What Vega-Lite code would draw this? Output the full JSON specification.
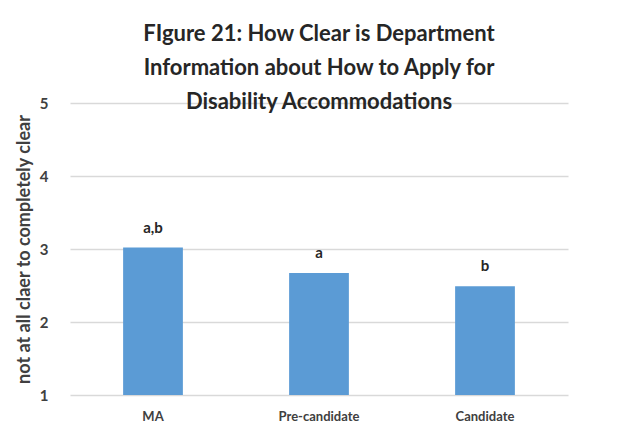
{
  "$schema": "https://vega.github.io/schema/vega-lite/v6.json",
  "width": 498,
  "height": 292,
  "autosize": {"type": "none"},
  "padding": {"left": 70, "top": 103, "right": 58, "bottom": 50},
  "background": "white",
  "title": {
    "text": ["FIgure 21: How Clear is Department", "Information about How to Apply for", "Disability Accommodations"],
    "anchor": "middle",
    "font": "Lato",
    "fontSize": 22,
    "fontWeight": "bold",
    "color": "#262626",
    "lineHeight": 34,
    "offset": -18
  },
  "data": {
    "values": [
      {"group": "MA", "score": 3.02, "sig": "a,b"},
      {"group": "Pre-candidate", "score": 2.67, "sig": "a"},
      {"group": "Candidate", "score": 2.49, "sig": "b"}
    ]
  },
  "encoding": {
    "x": {
      "field": "group",
      "type": "nominal",
      "sort": null,
      "scale": {"paddingInner": 0.64, "paddingOuter": 0.32},
      "axis": {
        "title": null,
        "labelAngle": 0,
        "labelFont": "Lato",
        "labelFontSize": 13,
        "labelFontWeight": "bold",
        "labelColor": "#404040",
        "labelPadding": 15,
        "ticks": false,
        "domain": false
      }
    },
    "y": {
      "field": "score",
      "type": "quantitative",
      "scale": {"domain": [1, 5], "nice": false, "zero": false},
      "axis": {
        "values": [1, 2, 3, 4, 5],
        "title": "not at all claer to completely clear",
        "titleFont": "Lato",
        "titleFontSize": 18,
        "titleFontWeight": "bold",
        "titleColor": "#404040",
        "titlePadding": 6,
        "labelFont": "Lato",
        "labelFontSize": 15,
        "labelFontWeight": "bold",
        "labelColor": "#404040",
        "labelPadding": 22,
        "ticks": false,
        "domain": false,
        "grid": true,
        "gridColor": "#d9d9d9",
        "gridWidth": 1.5
      }
    }
  },
  "layer": [
    {"mark": {"type": "bar", "color": "#5B9BD5"}, "encoding": {"y2": {"datum": 1}}},
    {
      "mark": {"type": "text", "dy": -20, "font": "Lato", "fontSize": 15, "fontWeight": "bold", "color": "#262626"},
      "encoding": {"text": {"field": "sig"}}
    }
  ],
  "config": {"view": {"stroke": null}}
}
